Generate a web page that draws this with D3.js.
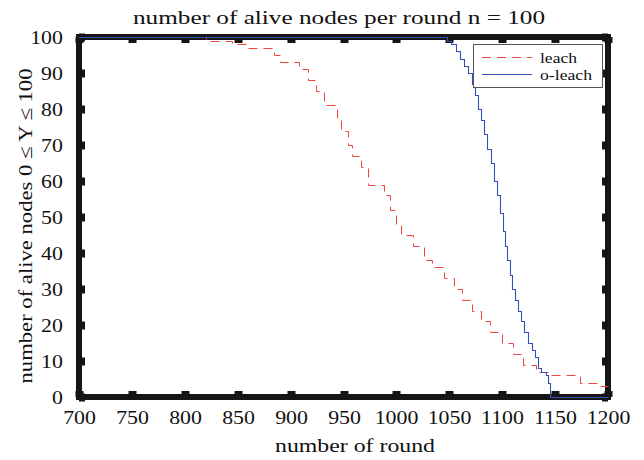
<!DOCTYPE html>
<html>
<head>
<meta charset="utf-8">
<script src="https://cdn.jsdelivr.net/npm/d3@7"></script>
<style>
  body { margin: 0; background: #fff; }
  text { font-family: "Liberation Serif", "Times New Roman", serif; fill: #111; }
</style>
</head>
<body>
<svg id="chart"></svg>
<script>
// leach (red dashed) - alive nodes per round
const leachRounds = [700, 820, 845, 858, 884, 890, 908, 916, 924, 932, 944, 948, 954, 958, 967, 973, 988, 994, 1000, 1004, 1016, 1026, 1034, 1045, 1054, 1062, 1071, 1080, 1088, 1100, 1110, 1120, 1132, 1146, 1174, 1190, 1200];
const leachAlive  = [100, 99, 98, 97, 95, 93, 91, 88, 85, 81, 77, 74, 70, 67, 64, 59, 56, 52, 48, 45, 42, 38, 36, 33, 30, 27, 24, 21, 18, 15, 12, 9, 7, 6, 4, 3, 3];

// o-leach (blue solid)
const oleachRounds = [700, 1042, 1048, 1052, 1056, 1060, 1064, 1068, 1071, 1074, 1077, 1080, 1083, 1086, 1089, 1092, 1095, 1098, 1101, 1103, 1105, 1107, 1109, 1112, 1115, 1118, 1121, 1124, 1128, 1131, 1134, 1137, 1141, 1143, 1145, 1200];
const oleachAlive  = [100, 100, 99, 98, 96, 94, 92, 90, 87, 84, 80, 77, 73, 69, 65, 60, 56, 51, 46, 42, 38, 34, 30, 27, 24, 21, 18, 15, 13, 11, 8, 7, 6, 4, 0, 0];

const xTicks = [700, 750, 800, 850, 900, 950, 1000, 1050, 1100, 1150, 1200];
const yTicks = [0, 10, 20, 30, 40, 50, 60, 70, 80, 90, 100];
const seriesNames = ["leach", "o-leach"];

const width = 644, height = 460;
const plotLeft = 79, plotRight = 608, plotTop = 37, plotBottom = 397;

const svg = d3.select("#chart").attr("width", width).attr("height", height);

const x = d3.scaleLinear().domain([700, 1200]).rangeRound([plotLeft, plotRight]);
const y = d3.scaleLinear().domain([0, 100]).rangeRound([plotBottom, plotTop]);

// title
svg.append("text")
  .attr("x", 339).attr("y", 24)
  .attr("text-anchor", "middle")
  .attr("font-size", 19)
  .attr("textLength", 412).attr("lengthAdjust", "spacingAndGlyphs")
  .text("number of alive nodes per round n = 100");

// plot background
svg.append("rect")
  .attr("x", plotLeft).attr("y", plotTop)
  .attr("width", plotRight - plotLeft).attr("height", plotBottom - plotTop)
  .attr("fill", "#fff");

// thick frame
svg.append("rect")
  .attr("x", plotLeft).attr("y", plotTop)
  .attr("width", plotRight - plotLeft).attr("height", plotBottom - plotTop)
  .attr("fill", "none")
  .attr("stroke", "#151515")
  .attr("stroke-width", 6);

// axes with inward ticks
function styleAxis(g) {
  g.select(".domain").remove();
  g.selectAll(".tick line").attr("stroke", "#151515").attr("stroke-width", 8);
}

svg.append("g").attr("transform", "translate(0," + plotBottom + ")")
  .call(d3.axisBottom(x).tickValues(xTicks).tickSize(-6).tickPadding(14).tickFormat(d3.format("d")))
  .call(styleAxis)
  .call(g => g.selectAll("text")
    .attr("font-size", 19).attr("fill", "#111")
    .attr("font-family", "Liberation Serif")
    .attr("transform", "scale(1.15,1)"));

svg.append("g").attr("transform", "translate(0," + plotTop + ")")
  .call(d3.axisTop(x).tickValues(xTicks).tickSize(-6).tickFormat(""))
  .call(styleAxis);

svg.append("g").attr("transform", "translate(" + plotLeft + ",0)")
  .call(d3.axisLeft(y).tickValues(yTicks).tickSize(-6).tickPadding(14).tickFormat(d3.format("d")))
  .call(styleAxis)
  .call(g => g.selectAll("text")
    .attr("font-size", 19).attr("fill", "#111")
    .attr("font-family", "Liberation Serif")
    .attr("transform", "scale(1.15,1)"));

svg.append("g").attr("transform", "translate(" + plotRight + ",0)")
  .call(d3.axisRight(y).tickValues(yTicks).tickSize(-6).tickFormat(""))
  .call(styleAxis);

// lines (half-pixel offset keeps the 1px steps sharp)
const line = d3.line()
  .x(d => x(d[0]))
  .y(d => y(d[1]))
  .curve(d3.curveStepAfter);

const lines = svg.append("g").attr("transform", "translate(0.5,0.5)");

lines.append("path")
  .attr("fill", "none")
  .attr("stroke", "#f04444")
  .attr("stroke-width", 1)
  .attr("stroke-dasharray", "9,6")
  .attr("d", line(d3.zip(leachRounds, leachAlive)));

lines.append("path")
  .attr("fill", "none")
  .attr("stroke", "#3550b8")
  .attr("stroke-width", 1.1)
  .attr("d", line(d3.zip(oleachRounds, oleachAlive)));

// axis labels
svg.append("text")
  .attr("x", 355).attr("y", 452)
  .attr("text-anchor", "middle")
  .attr("font-size", 19)
  .attr("textLength", 160).attr("lengthAdjust", "spacingAndGlyphs")
  .text("number of round");

svg.append("text")
  .attr("transform", "translate(32,226) rotate(-90)")
  .attr("text-anchor", "middle")
  .attr("font-size", 19)
  .attr("textLength", 315).attr("lengthAdjust", "spacingAndGlyphs")
  .text("number of alive nodes 0 \u2264 Y \u2264 100");

// legend
const legend = svg.append("g");
legend.append("rect")
  .attr("x", 473.5).attr("y", 44.5)
  .attr("width", 129).attr("height", 43)
  .attr("fill", "#fff")
  .attr("stroke", "#555")
  .attr("stroke-width", 1);

const legendColors = ["#f04444", "#3550b8"];
const legendDash = ["9,6", null];
const legendWidths = [37, 52];
seriesNames.forEach((name, i) => {
  const ly = 57.5 + i * 17;
  legend.append("line")
    .attr("x1", 482).attr("x2", 532)
    .attr("y1", ly).attr("y2", ly)
    .attr("stroke", legendColors[i])
    .attr("stroke-width", 1.1)
    .attr("stroke-dasharray", legendDash[i]);
  legend.append("text")
    .attr("x", 540).attr("y", ly + 5)
    .attr("font-size", 15)
    .attr("textLength", legendWidths[i]).attr("lengthAdjust", "spacingAndGlyphs")
    .text(name);
});
</script>
</body>
</html>
